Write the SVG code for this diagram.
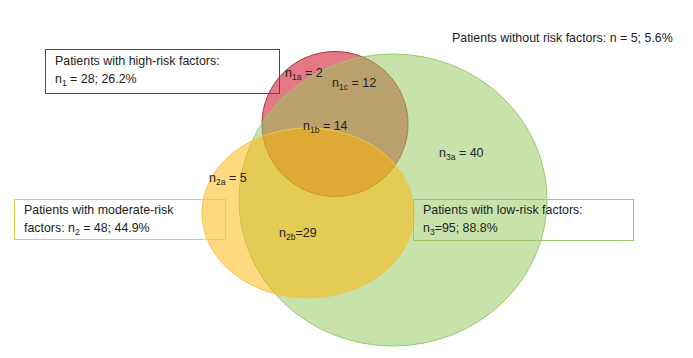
<svg xmlns="http://www.w3.org/2000/svg" width="693" height="358" viewBox="0 0 693 358">
<style>
text{font-family:"Liberation Sans",Arial,sans-serif;fill:#222;}
.box{font-size:12.4px;}
.lbl{font-size:12.5px;}
.sub{font-size:8.5px;}
</style>
<rect width="693" height="358" fill="#fff"/>
<g id="set-high">
<ellipse cx="335" cy="124" rx="73" ry="72.5" fill="#D9404F" fill-opacity="0.7" stroke="#A8343E" stroke-width="1"/>
</g>
<g id="set-low">
<ellipse cx="393" cy="200" rx="154" ry="146" fill="#8FC757" fill-opacity="0.5" stroke="#9BC870" stroke-width="1"/>
</g>
<g id="set-moderate">
<ellipse cx="308" cy="213" rx="106" ry="85" fill="#FFB400" fill-opacity="0.5" stroke="#F2C64A" stroke-width="1"/>
</g>
<g id="region-labels">
<text class="lbl" x="285" y="77">n<tspan class="sub" dy="3">1a</tspan><tspan dy="-3"> = 2</tspan></text>
<text class="lbl" x="332" y="87">n<tspan class="sub" dy="3">1c</tspan><tspan dy="-3"> = 12</tspan></text>
<text class="lbl" x="303" y="130">n<tspan class="sub" dy="3">1b</tspan><tspan dy="-3"> = 14</tspan></text>
<text class="lbl" x="209" y="182">n<tspan class="sub" dy="3">2a</tspan><tspan dy="-3"> = 5</tspan></text>
<text class="lbl" x="279" y="237">n<tspan class="sub" dy="3">2b</tspan><tspan dy="-3">=29</tspan></text>
<text class="lbl" x="439" y="157">n<tspan class="sub" dy="3">3a</tspan><tspan dy="-3"> = 40</tspan></text>
</g>
<g id="box-high">
<rect x="45.5" y="49.5" width="234" height="44" fill="none" stroke="#B0202E" stroke-width="1"/>
<text class="box" x="55" y="65">Patients with high-risk factors:</text>
<text class="box" x="55" y="83">n<tspan class="sub" dy="3">1</tspan><tspan dy="-3"> = 28; 26.2%</tspan></text>
</g>
<g id="box-moderate">
<rect x="14.5" y="199.5" width="211" height="40" fill="none" stroke="#F0C850" stroke-width="1"/>
<text class="box" x="24" y="214">Patients with moderate-risk</text>
<text class="box" x="24" y="232">factors: n<tspan class="sub" dy="3">2</tspan><tspan dy="-3"> = 48; 44.9%</tspan></text>
</g>
<g id="box-low">
<rect x="413.5" y="199.5" width="220" height="41" fill="none" stroke="#9CCB6E" stroke-width="1"/>
<text class="box" x="423" y="214">Patients with low-risk factors:</text>
<text class="box" x="423" y="232">n<tspan class="sub" dy="3">3</tspan><tspan dy="-3">=95; 88.8%</tspan></text>
</g>
<g id="no-risk">
<text class="box" x="452" y="42">Patients without risk factors: n = 5; 5.6%</text>
</g>
<g id="connectors"></g>
</svg>
